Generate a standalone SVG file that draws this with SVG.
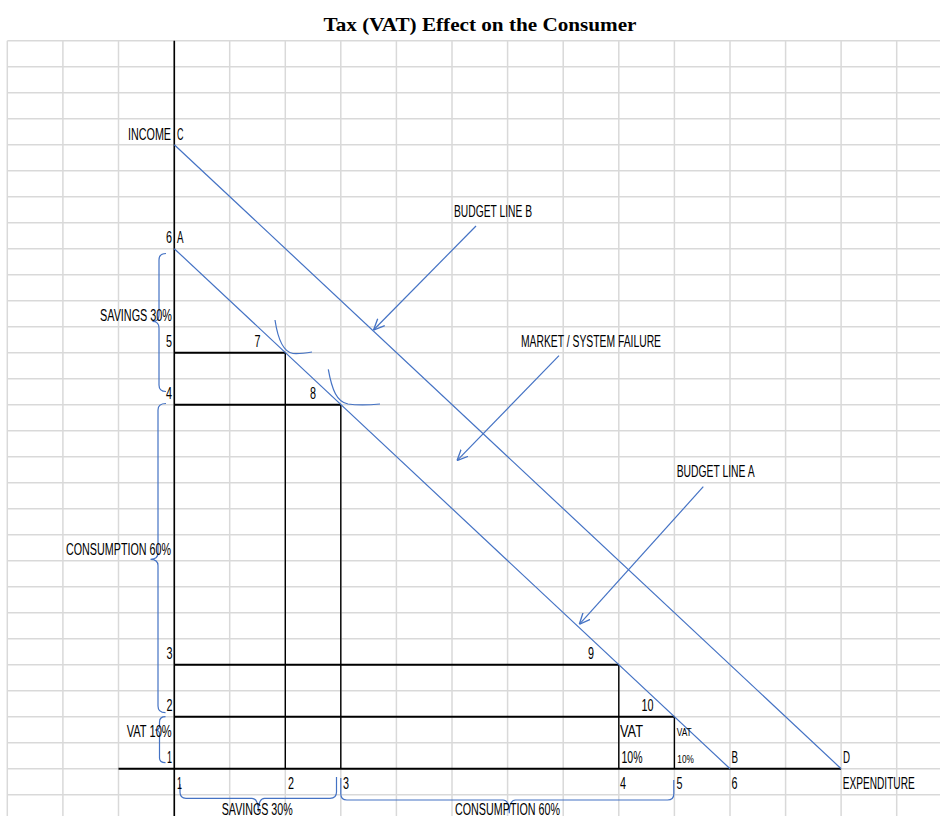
<svg xmlns="http://www.w3.org/2000/svg" width="940" height="816" viewBox="0 0 940 816">
<style>
.grid{stroke:#d9d9d9;stroke-width:1.5;fill:none}
.blk{stroke:#000;fill:none}
.blue{stroke:#4472c4;stroke-width:1.2;fill:none}
.lbl{font-family:"Liberation Sans Narrow","Liberation Sans",Arial,sans-serif;font-size:16px;fill:#000}
.sm{font-size:10.5px}
.title{font-family:"Liberation Serif","Times New Roman",serif;font-size:19.5px;font-weight:bold;fill:#000}
</style>
<defs>
<marker id="arr" viewBox="0 0 10 10" refX="10" refY="5" markerWidth="11" markerHeight="11" markerUnits="userSpaceOnUse" orient="auto">
<path d="M0,0.5 L10,5 L0,9.5" fill="none" stroke="#4472c4" stroke-width="1.2"/>
</marker>
</defs>
<rect width="940" height="816" fill="#fff"/>
<text class="title" x="323.5" y="30.5" textLength="313" lengthAdjust="spacingAndGlyphs">Tax (VAT) Effect on the Consumer</text>
<g id="grid" class="grid">
<path d="M7.3,40.7V816M62.9,40.7V816M118.5,40.7V816M174.1,40.7V816M229.7,40.7V816M285.3,40.7V816M340.8,40.7V816M396.4,40.7V816M452,40.7V816M507.6,40.7V816M563.2,40.7V816M618.8,40.7V816M674.4,40.7V816M730,40.7V816M785.6,40.7V816M841.1,40.7V816M896.7,40.7V816"/>
<path d="M7.3,40.7H940M7.3,66.7H940M7.3,92.7H940M7.3,118.7H940M7.3,144.7H940M7.3,170.7H940M7.3,196.7H940M7.3,222.7H940M7.3,248.7H940M7.3,274.7H940M7.3,300.7H940M7.3,326.7H940M7.3,352.7H940M7.3,378.7H940M7.3,404.7H940M7.3,430.7H940M7.3,456.7H940M7.3,482.7H940M7.3,508.7H940M7.3,534.7H940M7.3,560.7H940M7.3,586.7H940M7.3,612.7H940M7.3,638.7H940M7.3,664.7H940M7.3,690.7H940M7.3,716.7H940M7.3,742.7H940M7.3,768.7H940M7.3,794.7H940"/>
</g>
<g id="axes" class="blk">
<path d="M174.3,40.7V816" stroke-width="1.6"/>
<path d="M118.5,768.7H841.1" stroke-width="2"/>
</g>
<g id="boxes" class="blk">
<path d="M174.3,352.7H285.3M174.3,404.7H340.8M174.3,664.7H618.8M174.3,716.7H674.4" stroke-width="2"/>
<path d="M285.3,352.7V768.7M340.8,404.7V768.7M618.8,664.7V768.7M674.4,716.7V768.7" stroke-width="1.4"/>
</g>
<g id="connectors" class="blue">
<path id="budget-line-a" d="M174.3,248.7L730,768.7"/>
<path id="budget-line-b" d="M174.3,144.7L841.1,768.7"/>
<path id="curve-7" d="M275,320 C278,340 283,352 293,353.5 C300,354 306,353 312,352"/>
<path id="curve-8" d="M328.3,369.3 C332,390 337,402 348,404 C358,405.5 370,405 380,404"/>
<path id="arrow-b" d="M476,226L373.5,330" marker-end="url(#arr)"/>
<path id="arrow-mf" d="M559,355.7L457,460.7" marker-end="url(#arr)"/>
<path id="arrow-a" d="M703.3,486.7L579.3,624.3" marker-end="url(#arr)"/>
</g>
<g id="braces" class="blue">
<path d="M166,253.5 Q159,253.5 159,260 L159,315 Q159,321.5 152.5,321.5 Q159,321.5 159,328 L159,385 Q159,391.5 166,391.5"/>
<path d="M166,403.5 Q158,403.5 158,410 L158,553 Q158,559.3 150.5,559.3 Q158,559.3 158,565.5 L158,706 Q158,712.7 165.5,712.7"/>
<path d="M165.5,716.7 Q159.5,716.7 159.5,722 L159.5,726 Q159.5,730 155,730 Q159.5,730 159.5,734 L159.5,758 Q159.5,762.7 165.5,762.7"/>
<path d="M180,784 L180,792 Q180,798.3 186,798.3 L252,798.3 Q258.3,798.3 258.3,811.7 Q258.3,798.3 264.5,798.3 L330,798.3 Q336.5,798.3 336.5,792 L336.5,777"/>
<path d="M340.8,778 L340.8,794 Q340.8,800 347,800 L503,800 Q509.3,800 509.3,813.3 Q509.3,800 515.5,800 L667.5,800 Q673.8,800 673.8,794 L673.8,780"/>
</g>
<g id="labels" class="lbl">
<text x="128" y="139.5" textLength="43" lengthAdjust="spacingAndGlyphs">INCOME</text>
<text x="177" y="139.5" textLength="6.5" lengthAdjust="spacingAndGlyphs">C</text>
<text x="166" y="243" textLength="6" lengthAdjust="spacingAndGlyphs">6</text>
<text x="177" y="243" textLength="6.5" lengthAdjust="spacingAndGlyphs">A</text>
<text x="454" y="217" textLength="78" lengthAdjust="spacingAndGlyphs">BUDGET LINE B</text>
<text x="100" y="321" textLength="72" lengthAdjust="spacingAndGlyphs">SAVINGS 30%</text>
<text x="166" y="346.7" textLength="6" lengthAdjust="spacingAndGlyphs">5</text>
<text x="254.5" y="346.7" textLength="6" lengthAdjust="spacingAndGlyphs">7</text>
<text x="521" y="346.7" textLength="140" lengthAdjust="spacingAndGlyphs">MARKET / SYSTEM FAILURE</text>
<text x="166" y="398.5" textLength="6" lengthAdjust="spacingAndGlyphs">4</text>
<text x="310" y="398.5" textLength="6" lengthAdjust="spacingAndGlyphs">8</text>
<text x="676.7" y="476.7" textLength="78" lengthAdjust="spacingAndGlyphs">BUDGET LINE A</text>
<text x="66" y="555" textLength="105" lengthAdjust="spacingAndGlyphs">CONSUMPTION 60%</text>
<text x="166.5" y="659.3" textLength="6" lengthAdjust="spacingAndGlyphs">3</text>
<text x="588" y="659.3" textLength="6" lengthAdjust="spacingAndGlyphs">9</text>
<text x="166.5" y="711" textLength="6" lengthAdjust="spacingAndGlyphs">2</text>
<text x="641.5" y="711" textLength="12" lengthAdjust="spacingAndGlyphs">10</text>
<text x="126.7" y="736.7" textLength="45" lengthAdjust="spacingAndGlyphs">VAT 10%</text>
<text x="620" y="736.7" textLength="23" lengthAdjust="spacingAndGlyphs">VAT</text>
<text class="sm" x="676.7" y="736" textLength="15" lengthAdjust="spacingAndGlyphs">VAT</text>
<text x="167" y="762.7" textLength="5" lengthAdjust="spacingAndGlyphs">1</text>
<text x="621.5" y="762.7" textLength="21" lengthAdjust="spacingAndGlyphs">10%</text>
<text class="sm" x="677.3" y="762.7" textLength="16.5" lengthAdjust="spacingAndGlyphs">10%</text>
<text x="731.5" y="762.7" textLength="6.5" lengthAdjust="spacingAndGlyphs">B</text>
<text x="843" y="762.7" textLength="7" lengthAdjust="spacingAndGlyphs">D</text>
<text x="177" y="789.3" textLength="5" lengthAdjust="spacingAndGlyphs">1</text>
<text x="288" y="789.3" textLength="6" lengthAdjust="spacingAndGlyphs">2</text>
<text x="343" y="789.3" textLength="6" lengthAdjust="spacingAndGlyphs">3</text>
<text x="620" y="789.3" textLength="6" lengthAdjust="spacingAndGlyphs">4</text>
<text x="676.5" y="789.3" textLength="6" lengthAdjust="spacingAndGlyphs">5</text>
<text x="731.5" y="789.3" textLength="6" lengthAdjust="spacingAndGlyphs">6</text>
<text x="842.7" y="789.3" textLength="72" lengthAdjust="spacingAndGlyphs">EXPENDITURE</text>
<text x="221.7" y="815" textLength="71" lengthAdjust="spacingAndGlyphs">SAVINGS 30%</text>
<text x="455" y="815" textLength="105" lengthAdjust="spacingAndGlyphs">CONSUMPTION 60%</text>
</g>
</svg>
